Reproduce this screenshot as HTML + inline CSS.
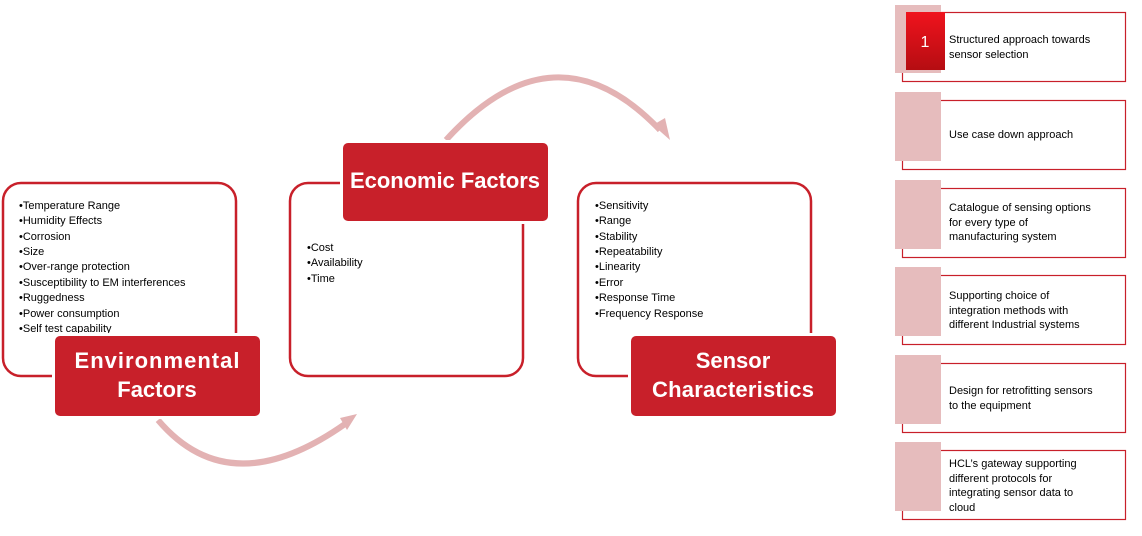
<!DOCTYPE html>
<html><head><meta charset="utf-8"><style>
body{margin:0;background:#fff;width:1142px;height:531px;overflow:hidden;font-family:"Liberation Sans",sans-serif}
</style></head><body>
<svg width="1142" height="531" xmlns="http://www.w3.org/2000/svg" font-family="Liberation Sans, sans-serif">
<defs>
<linearGradient id="g1" x1="0" y1="0" x2="0" y2="1"><stop offset="0" stop-color="#f0131d"/><stop offset="1" stop-color="#b50d12"/></linearGradient>
</defs>
<path d="M446,140 Q555,20 660,130" fill="none" stroke="#e3b2b3" stroke-width="6"/>
<polygon points="653,125 670,140 665,118" fill="#e3b2b3"/>
<path d="M158,420 Q230,505 345,424" fill="none" stroke="#e3b2b3" stroke-width="6"/>
<polygon points="340,418 357,414 347,430" fill="#e3b2b3"/>
<rect x="3" y="183" width="233" height="193" rx="18" fill="#fff" stroke="#c8202a" stroke-width="2.5"/>
<rect x="290" y="183" width="233" height="193" rx="18" fill="#fff" stroke="#c8202a" stroke-width="2.5"/>
<rect x="578" y="183" width="233" height="193" rx="18" fill="#fff" stroke="#c8202a" stroke-width="2.5"/>
<g font-size="11" fill="#000">
<text x="19" y="209">•Temperature Range</text>
<text x="19" y="224">•Humidity Effects</text>
<text x="19" y="240">•Corrosion</text>
<text x="19" y="255">•Size</text>
<text x="19" y="270">•Over-range protection</text>
<text x="19" y="286">•Susceptibility to EM interferences</text>
<text x="19" y="301">•Ruggedness</text>
<text x="19" y="317">•Power consumption</text>
<text x="19" y="332">•Self test capability</text>
<text x="307" y="251">•Cost</text>
<text x="307" y="266">•Availability</text>
<text x="307" y="282">•Time</text>
<text x="595" y="209">•Sensitivity</text>
<text x="595" y="224">•Range</text>
<text x="595" y="240">•Stability</text>
<text x="595" y="255">•Repeatability</text>
<text x="595" y="270">•Linearity</text>
<text x="595" y="286">•Error</text>
<text x="595" y="301">•Response Time</text>
<text x="595" y="317">•Frequency Response</text>
</g>
<rect x="52" y="333" width="211" height="86" rx="6" fill="#fff"/>
<rect x="55" y="336" width="205" height="80" rx="5" fill="#c8202a"/>
<rect x="340" y="140" width="211" height="84" rx="6" fill="#fff"/>
<rect x="343" y="143" width="205" height="78" rx="5" fill="#c8202a"/>
<rect x="628" y="333" width="211" height="86" rx="6" fill="#fff"/>
<rect x="631" y="336" width="205" height="80" rx="5" fill="#c8202a"/>
<g font-size="22" font-weight="bold" fill="#fff" text-anchor="middle">
<text x="157" y="368" textLength="165">Environmental</text>
<text x="157" y="397">Factors</text>
<text x="445" y="188" textLength="190">Economic Factors</text>
<text x="733" y="368">Sensor</text>
<text x="733" y="397" textLength="162">Characteristics</text>
</g>
<g font-size="11" fill="#000">
<rect x="902.5" y="12.5" width="223" height="69" fill="#fff" stroke="#c8202a" stroke-width="1.2"/>
<rect x="895" y="5" width="46" height="68" fill="#e6bcbd"/>
<rect x="906" y="12" width="39" height="58" fill="url(#g1)"/>
<text x="925" y="47" font-size="16" fill="#fff" text-anchor="middle">1</text>
<text x="949" y="43">Structured  approach towards</text>
<text x="949" y="58">sensor selection</text>

<rect x="902.5" y="100.5" width="223" height="69" fill="#fff" stroke="#c8202a" stroke-width="1.2"/>
<rect x="895" y="92" width="46" height="69" fill="#e6bcbd"/>
<text x="949" y="138">Use case down  approach</text>

<rect x="902.5" y="188.5" width="223" height="69" fill="#fff" stroke="#c8202a" stroke-width="1.2"/>
<rect x="895" y="180" width="46" height="69" fill="#e6bcbd"/>
<text x="949" y="211">Catalogue of sensing options</text>
<text x="949" y="226">for every type of</text>
<text x="949" y="240">manufacturing system</text>

<rect x="902.5" y="275.5" width="223" height="69" fill="#fff" stroke="#c8202a" stroke-width="1.2"/>
<rect x="895" y="267" width="46" height="69" fill="#e6bcbd"/>
<text x="949" y="299">Supporting choice of</text>
<text x="949" y="314">integration methods with</text>
<text x="949" y="328">different Industrial systems</text>

<rect x="902.5" y="363.5" width="223" height="69" fill="#fff" stroke="#c8202a" stroke-width="1.2"/>
<rect x="895" y="355" width="46" height="69" fill="#e6bcbd"/>
<text x="949" y="394">Design for retrofitting sensors</text>
<text x="949" y="409">to the equipment</text>

<rect x="902.5" y="450.5" width="223" height="69" fill="#fff" stroke="#c8202a" stroke-width="1.2"/>
<rect x="895" y="442" width="46" height="69" fill="#e6bcbd"/>
<text x="949" y="467">HCL’s gateway supporting</text>
<text x="949" y="482">different protocols for</text>
<text x="949" y="496">integrating sensor data to</text>
<text x="949" y="511">cloud</text>
</g>
</svg>
</body></html>
